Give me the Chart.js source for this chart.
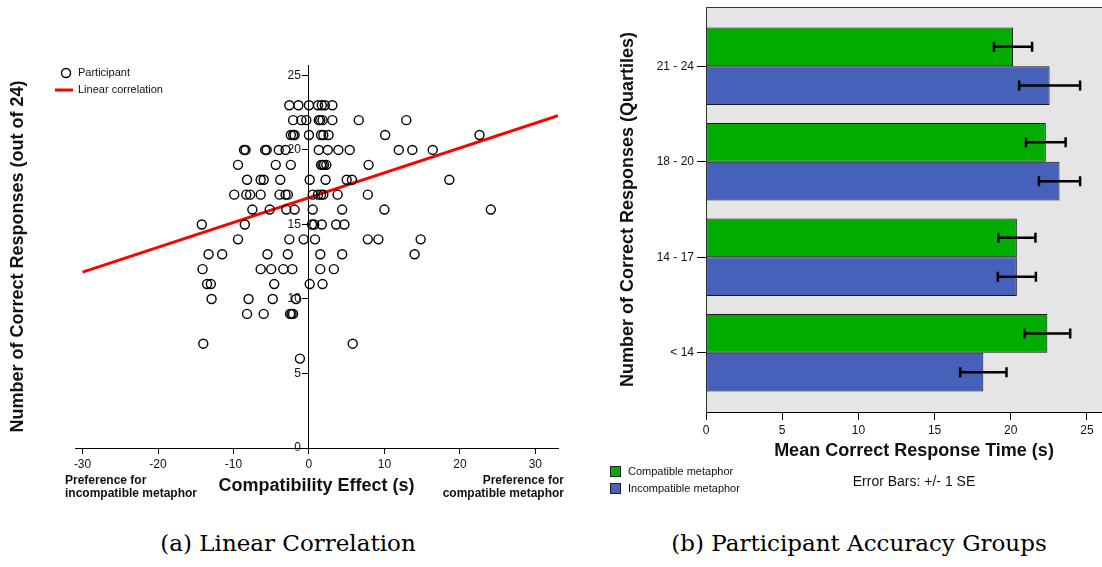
<!DOCTYPE html>
<html>
<head>
<meta charset="utf-8">
<script src="https://cdn.jsdelivr.net/npm/chart.js@4.4.1/dist/chart.umd.min.js"></script>
<style>
  html, body { margin: 0; padding: 0; background: #fff; }
  body { width: 1102px; height: 567px; position: relative; overflow: hidden; }
  .panel { position: absolute; top: 0; height: 510px; }
  #left { left: 0; width: 580px; }
  #right { left: 600px; width: 522px; }
  .caption { position: absolute; top: 529px; width: 500px; text-align: center; font: 23px/28px "DejaVu Serif", serif; color: #000; }
</style>
</head>
<body>
<div class="panel" id="left"><canvas id="scatter"></canvas></div>
<div class="panel" id="right"><canvas id="bars"></canvas></div>
<div class="caption" style="left:38px">(a) Linear Correlation</div>
<div class="caption" style="left:609px">(b) Participant Accuracy Groups</div>
<script>
// (a) compatibility effect (s) vs number of correct responses, one entry per participant
const effect = [
  -2.6, -1.4, 0, 1.2, 1.7, 2.1, 3.1,
  -2.1, -1.0, -0.35, 1.3, 1.5, 1.8, 3.1, 6.6, 12.9,
  -2.4, -2.1, -1.9, 0, 1.6, 1.9, 2.6, 10.1, 22.6,
  -8.6, -8.4, -5.8, -5.6, -4.0, -3.1, 1.3, 2.5, 3.9, 5.4, 11.9, 13.7, 16.4,
  -9.4, -4.4, -2.4, 1.6, 1.8, 2.0, 2.3, 7.9,
  -8.2, -6.4, -6.0, -3.8, 0.1, 2.2, 5.0, 5.7, 18.6,
  -9.9, -8.3, -7.8, -6.4, -3.9, -3.1, -2.8, 0.5, 1.2, 1.6, 1.9, 3.8, 7.8,
  -7.5, -5.2, -3.0, -1.9, 0.5, 4.4, 10.0, 24.1,
  -14.2, -8.5, 0.4, 0.7, 1.7, 3.6, 4.7,
  -9.4, -2.6, -0.7, 0.8, 7.8, 9.2, 14.8,
  -13.3, -11.5, -5.5, -2.8, 1.5, 4.4, 14.0,
  -14.1, -6.4, -5.0, -3.4, -2.2, 1.5, 3.3,
  -13.5, -13.0, -4.6, 0.1, 1.8,
  -12.9, -8.0, -4.8, -1.7,
  -8.2, -6.0, -2.5, -2.3, -2.1,
  -14.0, 5.8,
  -1.2
];
const correct = [
  23, 23, 23, 23, 23, 23, 23,
  22, 22, 22, 22, 22, 22, 22, 22, 22,
  21, 21, 21, 21, 21, 21, 21, 21, 21,
  20, 20, 20, 20, 20, 20, 20, 20, 20, 20, 20, 20, 20,
  19, 19, 19, 19, 19, 19, 19, 19,
  18, 18, 18, 18, 18, 18, 18, 18, 18,
  17, 17, 17, 17, 17, 17, 17, 17, 17, 17, 17, 17, 17,
  16, 16, 16, 16, 16, 16, 16, 16,
  15, 15, 15, 15, 15, 15, 15,
  14, 14, 14, 14, 14, 14, 14,
  13, 13, 13, 13, 13, 13, 13,
  12, 12, 12, 12, 12, 12, 12,
  11, 11, 11, 11, 11,
  10, 10, 10, 10,
  9, 9, 9, 9, 9,
  7, 7,
  6
];
const fitX = [-30, 33];
const fitY = [11.8, 22.3];
const effectTicks = [-30, -20, -10, 0, 10, 20, 30];
const correctTicks = [0, 5, 10, 15, 20, 25];

// (b) mean correct response time by accuracy quartile
const groups = ['21 - 24', '18 - 20', '14 - 17', '< 14'];
const compatible = [20.15, 22.3, 20.4, 22.4];
const compatibleSE = [1.25, 1.3, 1.22, 1.5];
const incompatible = [22.55, 23.2, 20.4, 18.2];
const incompatibleSE = [2.0, 1.35, 1.25, 1.52];
const timeTicks = [0, 5, 10, 15, 20, 25];

const FONT = '"Liberation Sans", Arial, sans-serif';
Chart.defaults.font.family = FONT;
Chart.defaults.color = '#111';

const scatterNotes = {
  id: 'scatterNotes',
  afterDraw(chart) {
    const ctx = chart.ctx;
    const ds = chart.data.datasets;
    const { left, right } = chart.chartArea;
    const xs = chart.scales.x, ys = chart.scales.y;
    ctx.save();
    ctx.fillStyle = '#111';
    ctx.textBaseline = 'middle';

    // y tick labels sit left of the centred axis
    ctx.font = '12px ' + FONT;
    ctx.textAlign = 'right';
    const axisX = xs.getPixelForValue(0);
    ys.ticks.forEach(t => ctx.fillText(String(t.value), axisX - 8, ys.getPixelForValue(t.value)));

    ctx.textAlign = 'left';
    ctx.font = '11px ' + FONT;
    ctx.beginPath();
    ctx.arc(66, 73, 4.5, 0, Math.PI * 2);
    ctx.lineWidth = 1.4;
    ctx.strokeStyle = '#000';
    ctx.stroke();
    ctx.fillText(ds[0].label, 78, 73);
    ctx.beginPath();
    ctx.moveTo(55, 90);
    ctx.lineTo(73, 90);
    ctx.lineWidth = 3;
    ctx.strokeStyle = '#f00';
    ctx.stroke();
    ctx.fillText(ds[1].label, 78, 90);

    ctx.font = 'bold 12px ' + FONT;
    ctx.fillText('Preference for', left - 10, 481);
    ctx.fillText('incompatible metaphor', left - 10, 494);
    ctx.textAlign = 'right';
    ctx.fillText('Preference for', right + 6, 481);
    ctx.fillText('compatible metaphor', right + 6, 494);
    ctx.restore();
  }
};

new Chart(document.getElementById('scatter'), {
  type: 'scatter',
  data: {
    datasets: [{
      label: 'Participant',
      data: effect.map((x, i) => ({ x: x, y: correct[i] })),
      xAxisID: 'x',
      yAxisID: 'y',
      pointStyle: 'circle',
      pointRadius: 4.5,
      pointBorderWidth: 1.4,
      pointBorderColor: '#000',
      pointBackgroundColor: 'rgba(0,0,0,0)'
    }, {
      type: 'line',
      label: 'Linear correlation',
      data: fitX.map((x, i) => ({ x: x, y: fitY[i] })),
      xAxisID: 'x',
      yAxisID: 'y',
      borderColor: '#ff0000',
      borderWidth: 3,
      pointRadius: 0,
      fill: false
    }]
  },
  options: {
    responsive: true,
    maintainAspectRatio: false,
    animation: false,
    layout: { padding: { left: 0, right: 22, top: 65, bottom: 0 } },
    plugins: { legend: { display: false }, tooltip: { enabled: false } },
    scales: {
      x: {
        type: 'linear',
        position: 'bottom',
        min: -31,
        max: 33,
        afterBuildTicks: s => { s.ticks = effectTicks.map(v => ({ value: v })) },
        afterFit: s => { s.height = 62 },
        grid: { drawOnChartArea: false, tickLength: 6, color: '#000' },
        border: { color: '#000' },
        ticks: { font: { size: 12 }, padding: 3 },
        title: { display: true, text: 'Compatibility Effect (s)', font: { size: 18, weight: 'bold' }, padding: { top: 0, bottom: 13 } }
      },
      y: {
        type: 'linear',
        position: { x: 0 },
        min: 0,
        max: 25.7,
        afterBuildTicks: s => { s.ticks = correctTicks.map(v => ({ value: v })) },
        grid: { drawOnChartArea: false, tickLength: 6, color: '#000' },
        border: { color: '#000' },
        ticks: { display: false }
      },
      yTitle: {
        type: 'linear',
        axis: 'y',
        position: 'left',
        afterFit: s => { s.width = 75 },
        ticks: { display: false },
        grid: { display: false },
        border: { display: false },
        title: { display: true, text: 'Number of Correct Responses (out of 24)', font: { size: 18, weight: 'bold' }, padding: { top: 7, bottom: 0 } }
      }
    }
  },
  plugins: [scatterNotes]
});

const plotBackground = {
  id: 'plotBackground',
  beforeDraw(chart) {
    const { left, top, width, height } = chart.chartArea;
    const ctx = chart.ctx;
    ctx.save();
    ctx.fillStyle = '#e5e5e5';
    ctx.fillRect(left, top, width, height);
    ctx.strokeStyle = '#333';
    ctx.lineWidth = 1;
    ctx.strokeRect(left + 0.5, top + 0.5, width, height);
    ctx.restore();
  }
};

const errorBars = {
  id: 'errorBars',
  afterDatasetsDraw(chart) {
    const ctx = chart.ctx;
    const xs = chart.scales.x;
    ctx.save();
    ctx.strokeStyle = '#000';
    ctx.lineWidth = 2.5;
    chart.data.datasets.forEach((ds, di) => {
      chart.getDatasetMeta(di).data.forEach((bar, i) => {
        const v = ds.data[i].x;
        const e = ds.se[i];
        const x1 = xs.getPixelForValue(v - e);
        const x2 = xs.getPixelForValue(v + e);
        const y = bar.y;
        ctx.beginPath();
        ctx.moveTo(x1, y); ctx.lineTo(x2, y);
        ctx.moveTo(x1, y - 5); ctx.lineTo(x1, y + 5);
        ctx.moveTo(x2, y - 5); ctx.lineTo(x2, y + 5);
        ctx.stroke();
      });
    });
    ctx.restore();
  }
};

const barNotes = {
  id: 'barNotes',
  afterDraw(chart) {
    const ctx = chart.ctx;
    const { left, right } = chart.chartArea;
    ctx.save();
    ctx.textBaseline = 'middle';
    ctx.font = '11px ' + FONT;
    chart.data.datasets.forEach((ds, i) => {
      const y = 466 + i * 17;
      ctx.fillStyle = ds.backgroundColor;
      ctx.fillRect(10, y, 11, 11);
      ctx.strokeStyle = '#222';
      ctx.lineWidth = 1;
      ctx.strokeRect(10.5, y + 0.5, 10, 10);
      ctx.fillStyle = '#111';
      ctx.fillText(ds.label, 28, y + 6);
    });
    ctx.font = '14px ' + FONT;
    ctx.textAlign = 'center';
    ctx.fillText('Error Bars: +/- 1 SE', (left + right) / 2, 482);
    ctx.restore();
  }
};

new Chart(document.getElementById('bars'), {
  type: 'bar',
  data: {
    datasets: [{
      label: 'Compatible metaphor',
      data: compatible.map((v, i) => ({ x: v, y: i })),
      se: compatibleSE,
      backgroundColor: '#00ad00'
    }, {
      label: 'Incompatible metaphor',
      data: incompatible.map((v, i) => ({ x: v, y: i })),
      se: incompatibleSE,
      backgroundColor: '#4561b9'
    }]
  },
  options: {
    indexAxis: 'y',
    responsive: true,
    maintainAspectRatio: false,
    animation: false,
    layout: { padding: { left: 10, right: 0, top: 7, bottom: 40 } },
    datasets: {
      bar: { categoryPercentage: 0.812, barPercentage: 1, borderWidth: 1, borderColor: '#1a1a1a', borderSkipped: false }
    },
    plugins: { legend: { display: false }, tooltip: { enabled: false } },
    scales: {
      x: {
        type: 'linear',
        min: 0,
        max: 27.3,
        afterBuildTicks: s => { s.ticks = timeTicks.map(v => ({ value: v })) },
        afterFit: s => { s.height = 58 },
        grid: { drawOnChartArea: false, tickLength: 8, color: '#000' },
        border: { color: '#000' },
        ticks: { font: { size: 12 }, padding: 3 },
        title: { display: true, text: 'Mean Correct Response Time (s)', font: { size: 18, weight: 'bold' }, padding: { top: 0, bottom: 8 } }
      },
      y: {
        type: 'linear',
        reverse: true,
        offset: false,
        min: -0.62,
        max: 3.62,
        afterBuildTicks: s => { s.ticks = groups.map((g, i) => ({ value: i })) },
        afterFit: s => { s.width = 96; s.paddingTop = 0; s.paddingBottom = 0 },
        grid: { drawOnChartArea: false, offset: false, tickLength: 9, color: '#000' },
        border: { color: '#333' },
        ticks: { font: { size: 12 }, padding: 3, callback: v => groups[v] },
        title: { display: true, text: 'Number of Correct Responses (Quartiles)', font: { size: 18, weight: 'bold' }, padding: { top: 7, bottom: 0 } }
      }
    }
  },
  plugins: [plotBackground, errorBars, barNotes]
});
</script>
</body>
</html>
